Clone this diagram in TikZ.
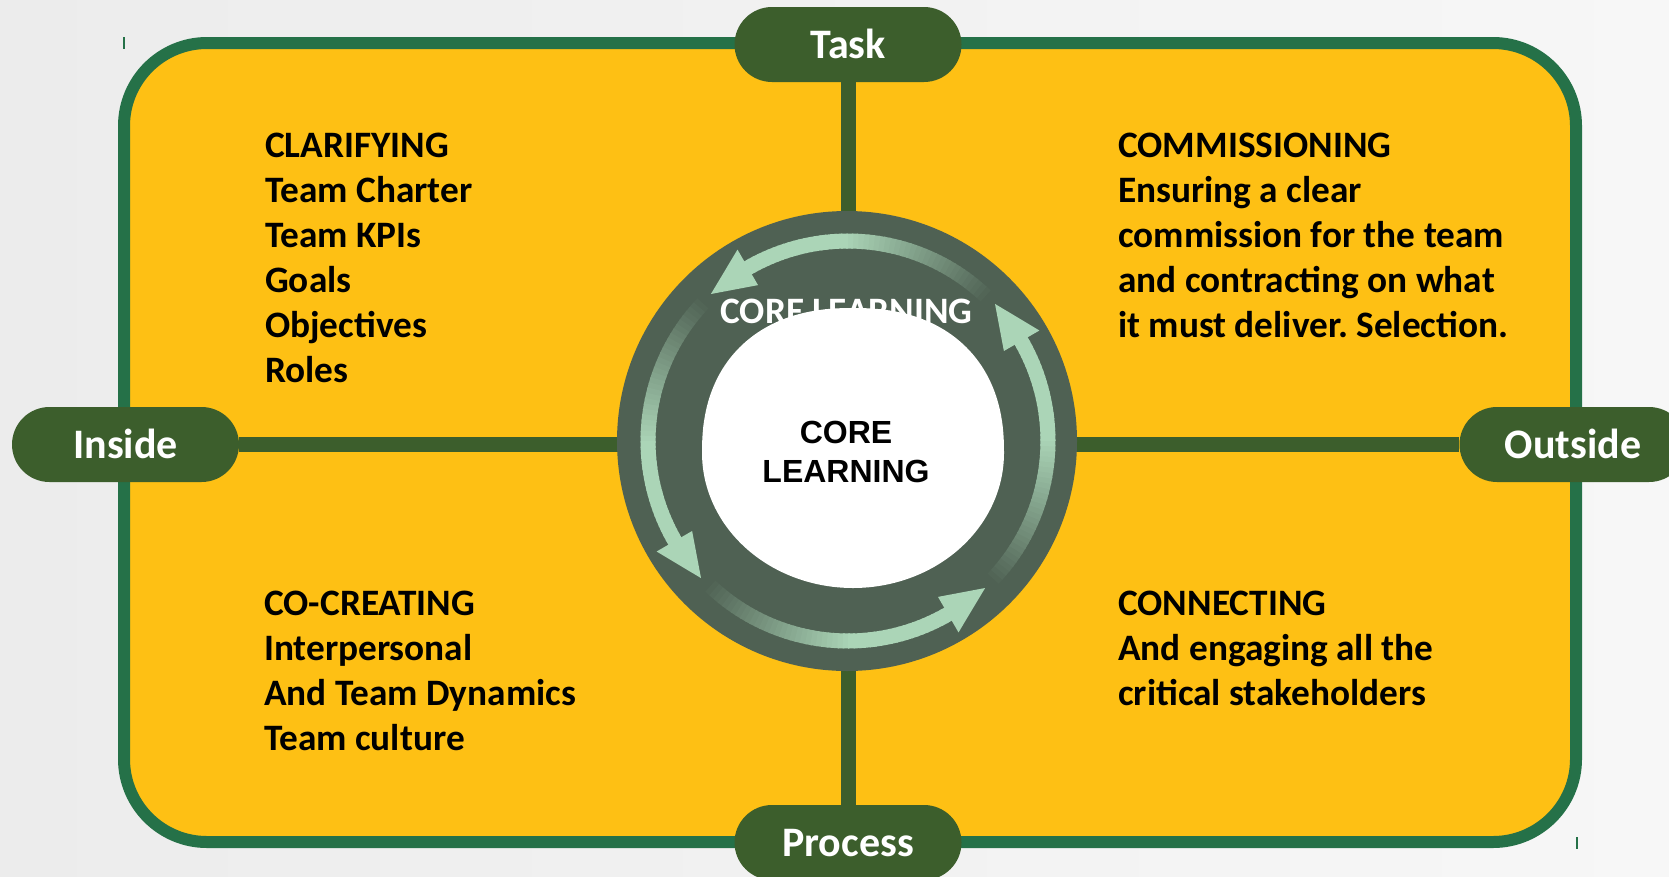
\documentclass[tikz,border=0pt]{standalone}
\usepackage{fontspec}
\setmainfont{Carlito}
\newfontfamily\arialfont{Liberation Sans}
\usetikzlibrary{shapes.geometric,backgrounds}
\definecolor{yellowc}{HTML}{FEC014}
\definecolor{framec}{HTML}{257148}
\definecolor{pillc}{HTML}{3C5E2C}
\definecolor{ringc}{HTML}{4F6153}
\definecolor{arrowc}{HTML}{ABD5B7}
\definecolor{bgl}{HTML}{ECECEC}
\definecolor{bgr}{HTML}{F7F7F7}
\tikzset{
  pill/.style={rectangle, rounded corners=37.5, fill=pillc, minimum width=227, minimum height=75, inner sep=0,
    text=white, font=\fontsize{42}{50}\selectfont\bfseries, text height=27, text depth=0},
  blocktext/.style={anchor=base west, inner sep=0, font=\fontsize{37.3}{44}\selectfont\bfseries, text=black},
  conn/.style={line width=15, draw=pillc},
  coretext/.style={anchor=base, inner sep=0, font=\arialfont\fontsize{32}{36}\selectfont\bfseries},
}
\frenchspacing
\begin{document}
\begin{tikzpicture}[x=1pt,y=-1pt]
\useasboundingbox (0,0) rectangle (1669,876);
\clip (0,0) rectangle (1669,876);
% pills
\node[pill] (task) at (848,44.5) {Task};
\node[pill] (inside) at (125.5,444.5) {Inside};
\node[pill] (outside) at (1573,444.5) {Outside};
\node[pill] (process) at (848,842.5) {Process};
\begin{pgfonlayer}{background}
  \fill[left color=bgl, right color=bgr] (0,0) rectangle (1669,876);
  \draw[line width=12, draw=framec, fill=yellowc, rounded corners=83] (124,43) rectangle (1576,842);
  \draw[conn] (task) -- (process);
  \draw[conn] (inside) -- (outside);
\end{pgfonlayer}
% tiny marks
\draw[framec, line width=1.2] (124,37) -- (124,49);
\draw[framec, line width=1.2] (1577,837) -- (1577,849);
% ring
\node[circle, fill=ringc, minimum size=460, inner sep=0] (ring) at (847,441) {};
\begin{scope}[shift={(848,441)}]
  \foreach \t in {43,133,223,313} {
    \foreach \i in {0,...,49} {
      \pgfmathsetmacro\na{88-\t-\i*1.5}
      \pgfmathsetmacro\nb{\na-2}
      \pgfmathsetmacro\p{min(100,\i*3.3333)}
      \draw[line width=15, draw=arrowc!\p!ringc] (\na:200) -- (\nb:200);
    }
    \fill[arrowc] (-\t:201) -- (13-\t:221) -- (13-\t:180) -- cycle;
  }
\end{scope}
\node[anchor=base, inner sep=0, text=white, font=\fontsize{37.3}{40}\selectfont\bfseries] (ringtxt) at (846.5,323) {CORE LEARNING};
% white hub: fuller upper half, elliptic lower half
\fill[white]
  plot[domain=0:180, samples=91, variable=\u]
    ({853+151*sign(cos(\u))*(abs(cos(\u))+0.00001)^0.87}, {453-145*(abs(sin(\u))+0.00001)^0.87})
  -- plot[domain=180:360, samples=91, variable=\u]
    ({853+151*cos(\u)}, {453-135*sin(\u)})
  -- cycle;
\node[coretext] (core1) at (846,443) {CORE};
\node[coretext] (core2) at (846,482) {LEARNING};
% text blocks
\foreach \txt [count=\i] in {CLARIFYING,Team Charter,Team KPIs,Goals,Objectives,Roles}
  \node[blocktext] (tl\i) at (265,{112+45*\i}) {\txt};
\foreach \txt [count=\i] in {COMMISSIONING,Ensuring a clear,commission for the team,and contracting on what,it must deliver. Selection.}
  \node[blocktext] (tr\i) at (1118,{112+45*\i}) {\txt};
\foreach \txt [count=\i] in {CO-CREATING,Interpersonal,And Team Dynamics,Team culture}
  \node[blocktext] (bl\i) at (264,{570+45*\i}) {\txt};
\foreach \txt [count=\i] in {CONNECTING,And engaging all the,critical stakeholders}
  \node[blocktext] (br\i) at (1118,{570+45*\i}) {\txt};
\end{tikzpicture}
\end{document}
